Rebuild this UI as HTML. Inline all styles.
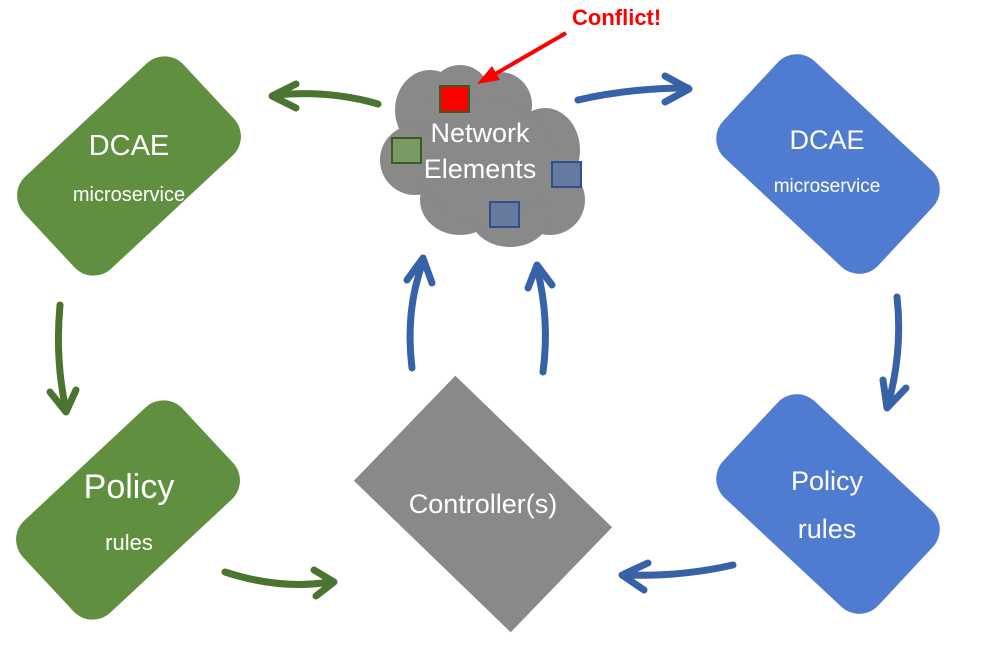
<!DOCTYPE html>
<html><head><style>
html,body{margin:0;padding:0;background:#fff;}
svg{display:block;}
text{font-family:"Liberation Sans","DejaVu Sans",sans-serif;fill:#fff;}
</style></head><body>
<svg width="983" height="655" viewBox="0 0 983 655" xmlns="http://www.w3.org/2000/svg">
<rect x="20" y="103" width="218" height="126" rx="26" fill="#5f8f3f" transform="rotate(-43 129 166)"/>
<rect x="19" y="447" width="218" height="126" rx="26" fill="#5f8f3f" transform="rotate(-43 128 510)"/>
<rect x="722" y="98" width="212" height="132" rx="26" fill="#4f7bd1" transform="rotate(43 828 164)"/>
<rect x="722" y="438" width="212" height="132" rx="26" fill="#4f7bd1" transform="rotate(43 828 504)"/>
<rect x="374" y="431" width="218" height="146" fill="#898989" transform="rotate(44 483 504)"/>
<g fill="#898989">
<ellipse cx="430" cy="110" rx="35" ry="40"/>
<ellipse cx="460" cy="95" rx="30" ry="30"/>
<ellipse cx="500" cy="105" rx="32" ry="33"/>
<ellipse cx="545" cy="150" rx="35" ry="42"/>
<ellipse cx="550" cy="200" rx="35" ry="35"/>
<ellipse cx="510" cy="215" rx="40" ry="32"/>
<ellipse cx="460" cy="200" rx="40" ry="35"/>
<ellipse cx="415" cy="160" rx="35" ry="35"/>
<ellipse cx="485" cy="160" rx="70" ry="60"/>
</g>
<rect x="440" y="86" width="29" height="26" fill="#ff0000" stroke="#3b5a20" stroke-width="2"/>
<rect x="392" y="138" width="29" height="25" fill="#7a9a64" stroke="#3b5a20" stroke-width="2"/>
<rect x="552" y="162" width="29" height="25" fill="#66799f" stroke="#2f4f8f" stroke-width="2"/>
<rect x="490" y="202" width="29" height="25" fill="#66799f" stroke="#2f4f8f" stroke-width="2"/>
<line x1="566" y1="33" x2="490" y2="77" stroke="#ff0000" stroke-width="4"/>
<polygon points="477,84 492,66 500,80" fill="#ff0000"/>
<text x="572" y="25" font-size="22" font-weight="bold" style="fill:#ff0000">Conflict!</text>
<text x="129" y="155" font-size="29" text-anchor="middle">DCAE</text>
<text x="129" y="201" font-size="20" text-anchor="middle">microservice</text>
<text x="129" y="498" font-size="34" text-anchor="middle">Policy</text>
<text x="129" y="550" font-size="22" text-anchor="middle">rules</text>
<text x="827" y="149" font-size="27" text-anchor="middle">DCAE</text>
<text x="827" y="192" font-size="19" text-anchor="middle">microservice</text>
<text x="827" y="490" font-size="27" text-anchor="middle">Policy</text>
<text x="827" y="538" font-size="27" text-anchor="middle">rules</text>
<text x="483" y="513" font-size="27" text-anchor="middle">Controller(s)</text>
<text x="480" y="142" font-size="27" text-anchor="middle">Network</text>
<text x="480" y="178" font-size="27" text-anchor="middle">Elements</text>
<g fill="none" stroke="#4a7430" stroke-width="7" stroke-linecap="round" stroke-linejoin="round">
<path d="M378 104 Q330 90 275 95"/>
<path d="M296 84 L272 96 L296 108"/>
<path d="M60 305 Q55 360 66 410"/>
<path d="M50 392 L66 412 L76 390"/>
<path d="M225 572 Q280 590 330 582"/>
<path d="M314 570 L334 582 L316 596"/>
</g>
<g fill="none" stroke="#3762a8" stroke-width="7" stroke-linecap="round" stroke-linejoin="round">
<path d="M578 100 Q630 88 688 88"/>
<path d="M665 76 L689 89 L665 102"/>
<path d="M897 297 Q903 350 888 405"/>
<path d="M883 380 L887 408 L906 388"/>
<path d="M733 565 Q680 577 625 575"/>
<path d="M648 563 L622 575 L644 590"/>
<path d="M412 368 Q405 310 423 262"/>
<path d="M407 280 L423 258 L432 283"/>
<path d="M543 372 Q550 320 537 268"/>
<path d="M528 288 L537 265 L552 285"/>
</g>
</svg>
</body></html>
